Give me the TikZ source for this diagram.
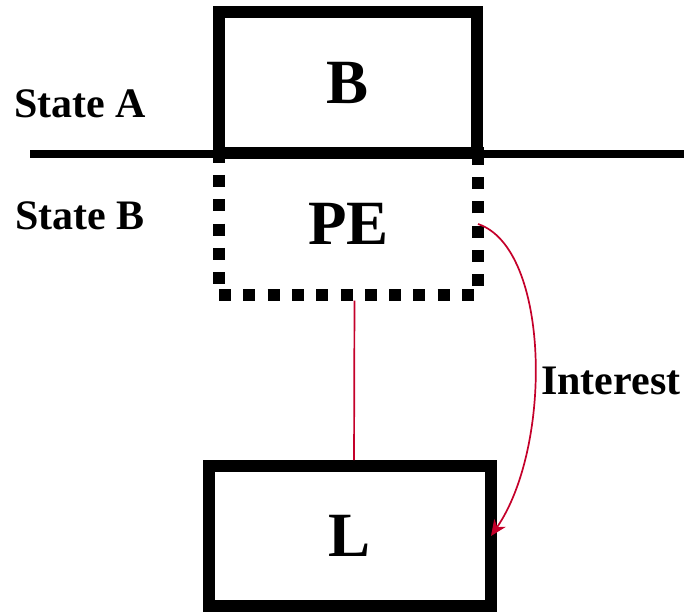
\documentclass[tikz,border=0pt]{standalone}
\usepackage{fontspec}
\setmainfont{Liberation Serif}
\usetikzlibrary{arrows.meta}
\definecolor{linkred}{RGB}{196,0,42}

\begin{document}
\begin{tikzpicture}[x=1pt,y=-1pt,>={Stealth[length=16pt,width=14pt]},
  every node/.style={font=\bfseries},
  block/.style={draw,line width=12pt,outer sep=0pt,minimum width=#1,minimum height=141pt,
    font=\fontsize{63}{63}\selectfont\bfseries},
  peblock/.style={block=259pt,line width=12pt,dash pattern=on 12pt off 12.3pt},
  statelabel/.style={font=\fontsize{42}{42}\selectfont\bfseries}]
  \useasboundingbox (0,0) rectangle (684,612);

  \node[peblock] (pe) at (348.5,224) {PE};

  \coordinate (lineW) at (30,154);
  \coordinate (lineE) at (684,154);
  \draw[line width=8pt] (lineW) -- (lineE);

  \node[block=258pt] (b) at (348,83) {B};
  \node[block=282pt,minimum height=140pt] (l) at (350,536) {L};

  \node[statelabel] (sa) at (80,104) {State A};
  \node[statelabel] (sb) at (80,216) {State B};
  \node[statelabel,anchor=west,inner sep=0pt] (interest) at (541,381) {Interest};

  \draw[linkred,line width=1.7pt,shorten <=6pt,shorten >=6pt]
    ([xshift=6pt]pe.south) -- ([xshift=4pt]l.north);
  \draw[->,linkred,line width=1.7pt] (pe.east) .. controls +(72,24) and +(62,-90) .. (l.east);
\end{tikzpicture}
\end{document}
